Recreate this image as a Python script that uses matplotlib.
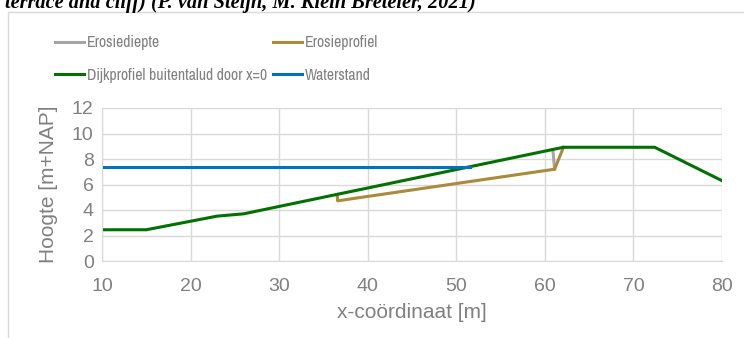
import matplotlib
matplotlib.use("Agg")
import matplotlib.pyplot as plt
from matplotlib.patches import Rectangle

# Data
dijk_x = [10, 15, 23, 26, 36.5, 62.1, 72.4, 80]
dijk_y = [2.45, 2.45, 3.52, 3.7, 5.22, 8.92, 8.92, 6.3]
erosie_x = [36.55, 36.6, 61.1, 62.1]
erosie_y = [5.22, 4.72, 7.2, 8.92]
diepte_x = [60.9, 61.1]
diepte_y = [8.75, 7.2]
water_x = [10, 51.6]
water_y = [7.35, 7.35]
xticks = [10, 20, 30, 40, 50, 60, 70, 80]
yticks = [0, 2, 4, 6, 8, 10, 12]
labels = ['Erosiediepte', 'Dijkprofiel buitentalud door x=0', 'Erosieprofiel', 'Waterstand']

W, H = 744, 338
fig = plt.figure(figsize=(W / 100, H / 100), dpi=100)
plt.rcParams['font.family'] = ['Liberation Sans', 'DejaVu Sans']
txt = '#808080'
grid = '#D9D9D9'

fig.patches.append(Rectangle((8 / W, -0.1), 1.2, 1.1 - 12 / H, transform=fig.transFigure,
                             fill=False, edgecolor=grid, linewidth=1.0))

fig.text(5 / W, 1 - 8 / H, "terrace and cliff) (P. van Steijn, M. Klein Breteler, 2021)",
         family='Liberation Serif', style='italic', weight='bold', fontsize=14.7,
         va='baseline', ha='left', color='black')

ax = fig.add_axes([102 / W, 1 - 261 / H, 620 / W, 153 / H])
l1, = ax.plot(diepte_x, diepte_y, color='#A5A5A5', lw=2.2, solid_joinstyle='round')
l2, = ax.plot(erosie_x, erosie_y, color='#A98B3B', lw=2.2, solid_joinstyle='round')
l3, = ax.plot(dijk_x, dijk_y, color='#007000', lw=2.2, solid_joinstyle='round')
l4, = ax.plot(water_x, water_y, color='#0070C0', lw=2.2)
ax.set_xlim(10, 80)
ax.set_ylim(0, 12)
ax.set_xticks(xticks)
ax.set_yticks(yticks)
ax.grid(True, color=grid, lw=1.0)
ax.set_axisbelow(True)
for s in ['top', 'right']:
    ax.spines[s].set_visible(False)
for s in ['left', 'bottom']:
    ax.spines[s].set_color(grid)
ax.tick_params(length=0, labelsize=14, colors=txt)
ax.tick_params(axis='x', pad=12)
ax.tick_params(axis='y', pad=6)
ax.set_xlabel('x-coördinaat [m]', fontsize=15, color=txt, labelpad=6)
ax.set_ylabel('Hoogte [m+NAP]', fontsize=15, color=txt, labelpad=10)

lprop = {'family': ['Archivo Narrow', 'Liberation Sans'], 'size': 11.3}
leg = fig.legend([l1, l3, l2, l4], labels,
                 ncol=2, loc='upper left', bbox_to_anchor=(55 / W, 1 - 35.5 / H),
                 frameon=False, prop=lprop, handlelength=1.85, handletextpad=0.18,
                 columnspacing=0.4, labelspacing=1.1, borderaxespad=0, borderpad=0)
for t in leg.get_texts():
    t.set_color(txt)

fig.savefig('out.png', dpi=100)
